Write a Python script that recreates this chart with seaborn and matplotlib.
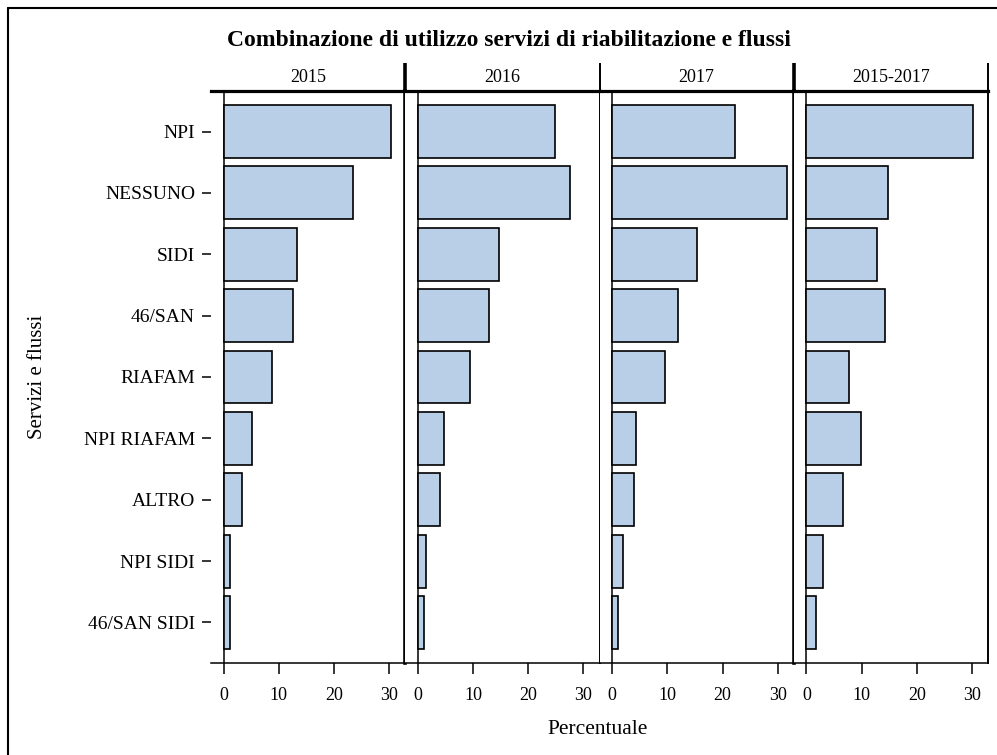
import numpy as np
import pandas as pd
import matplotlib
matplotlib.use("Agg")
import matplotlib.pyplot as plt
from matplotlib.lines import Line2D
import seaborn as sns

categorie = ["NPI", "NESSUNO", "SIDI", "46/SAN", "RIAFAM",
             "NPI RIAFAM", "ALTRO", "NPI SIDI", "46/SAN SIDI"]
anni = ["2015", "2016", "2017", "2015-2017"]

perc_2015 = [30.4, 23.5, 13.3, 12.5, 8.8, 5.2, 3.3, 1.2, 1.2]
perc_2016 = [24.9, 27.5, 14.7, 12.9, 9.5, 4.8, 4.0, 1.5, 1.1]
perc_2017 = [22.2, 31.6, 15.3, 12.0, 9.5, 4.4, 4.0, 1.9, 1.1]
perc_2015_2017 = [30.1, 14.7, 12.8, 14.3, 7.8, 9.9, 6.6, 3.0, 1.8]

valori = [perc_2015, perc_2016, perc_2017, perc_2015_2017]
rows = []
for anno, vals in zip(anni, valori):
    for c, v in zip(categorie, vals):
        rows.append({"anno": anno, "servizio": c, "perc": v})
df = pd.DataFrame(rows)

sns.set_style("white")
plt.rcParams['font.family'] = ['Liberation Serif', 'DejaVu Serif']
plt.rcParams['text.color'] = 'black'
plt.rcParams['xtick.color'] = 'black'
plt.rcParams['ytick.color'] = 'black'
plt.rcParams['axes.labelcolor'] = 'black'

W, H = 997, 755
fig = plt.figure(figsize=(W / 100, H / 100), dpi=100)


def fx(px):
    return px / W


def fy(py):
    return 1 - py / H


left, right, top, bottom = 211, 988, 91, 663
pw = (right - left) / 4
sep_w = [2.6, 1.4, 2.6, 1.4]  # separator widths between panels

for i, anno in enumerate(anni):
    ax = fig.add_axes([fx(left + i * pw), fy(bottom), pw / W, (bottom - top) / H])
    sub = df[df["anno"] == anno]
    sns.barplot(data=sub, x="perc", y="servizio", order=categorie, orient="h",
                color="#B9CFE7", saturation=1, edgecolor="black",
                linewidth=1.2, width=0.86, ax=ax)
    ax.set_xlim(-2.3, 32.9)
    ax.set_ylim(8.66, -0.66)
    ax.axvline(0, color="black", lw=1.1, zorder=0.5)
    ax.set_xlabel("")
    ax.set_ylabel("")
    ax.set_xticks([0, 10, 20, 30])
    ax.tick_params(axis="x", length=8, width=1.1, direction="out", pad=9,
                   labelsize=13, bottom=True, colors="black")
    if i == 0:
        ax.tick_params(axis="y", length=6.5, width=1.1, direction="out", pad=5,
                       labelsize=14, left=True, colors="black")
    else:
        ax.tick_params(axis="y", left=False, labelleft=False)
    ax.spines["left"].set_visible(False)
    ax.spines["top"].set_linewidth(2.3)
    ax.spines["bottom"].set_linewidth(1.1)
    ax.spines["right"].set_linewidth(sep_w[i])
    for s in ax.spines.values():
        s.set_color("black")
    # separator extending into the header strip
    ax.plot([1, 1], [1, 1 + 28 / (bottom - top)], transform=ax.transAxes,
            color="black", lw=sep_w[i], clip_on=False, solid_capstyle="butt")
    fig.text(fx(left + i * pw + pw / 2), fy(77), anno, ha="center", va="center",
             fontsize=13)

fig.text(fx(509), fy(40), "Combinazione di utilizzo servizi di riabilitazione e flussi",
         ha="center", va="center", fontsize=17, fontweight="bold")
fig.text(fx(37), fy(377), "Servizi e flussi", rotation=90, ha="center",
         va="center", fontsize=15)
fig.text(fx(598), fy(730), "Percentuale", ha="center", va="center", fontsize=15.5)

# outer frame
fig.add_artist(Line2D([fx(8), fx(8)], [fy(8), 0], color="black", lw=1.5))
fig.add_artist(Line2D([fx(8), 1], [fy(8), fy(8)], color="black", lw=1.5))

fig.savefig("out.png", dpi=100)
